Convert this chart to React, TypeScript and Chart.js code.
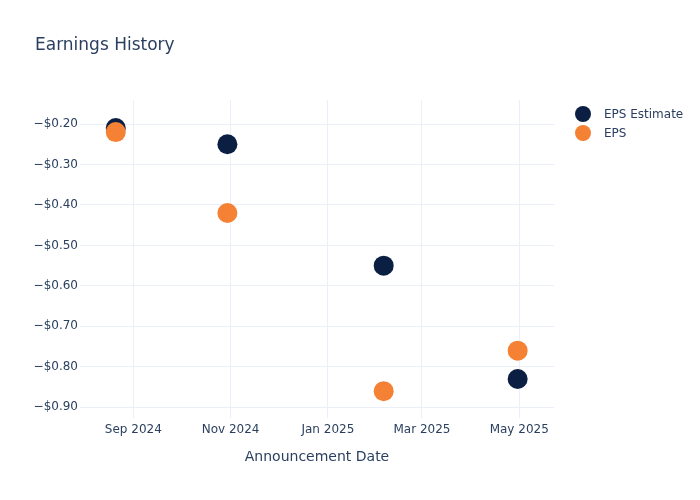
import React, { useEffect, useRef } from "react";
import { Chart, registerables } from "chart.js";

Chart.register(...registerables);

const announcementDates = ["2024-08-21", "2024-10-30", "2025-02-05", "2025-04-30"];
const epsEstimate = [-0.21, -0.25, -0.55, -0.83];
const epsActual = [-0.22, -0.42, -0.86, -0.76];
const xTickDates = ["2024-09-01", "2024-11-01", "2025-01-01", "2025-03-01", "2025-05-01"];
const yTickValues = [-0.2, -0.3, -0.4, -0.5, -0.6, -0.7, -0.8, -0.9];
const seriesNames = ["EPS Estimate", "EPS"];
const chartTitle = "Earnings History";
const xAxisTitle = "Announcement Date";

const MONTHS = ["Jan", "Feb", "Mar", "Apr", "May", "Jun", "Jul", "Aug", "Sep", "Oct", "Nov", "Dec"];
const NAVY = "#0b1f42";
const ORANGE = "#f58134";
const TEXT = "#2a3f5f";
const GRID = "#ebf0f8";
const FONT = "'DejaVu Sans', sans-serif";

const toMs = (s: string) => Date.parse(s + "T00:00:00Z");

const decorPlugin = {
  id: "decor",
  afterDraw(chart: any) {
    const ctx = chart.ctx as CanvasRenderingContext2D;
    ctx.save();
    ctx.fillStyle = TEXT;
    ctx.font = `17px ${FONT}`;
    ctx.textAlign = "left";
    ctx.textBaseline = "middle";
    ctx.fillText(chartTitle, 35, 46);

    const ys = [114, 133];
    chart.data.datasets.forEach((ds: any, i: number) => {
      ctx.beginPath();
      ctx.arc(583, ys[i], 8, 0, Math.PI * 2);
      ctx.fillStyle = ds.backgroundColor;
      ctx.fill();
      ctx.fillStyle = TEXT;
      ctx.font = `12px ${FONT}`;
      ctx.fillText(ds.label, 604, ys[i] + 1);
    });
    ctx.restore();
  },
};

export default function App() {
  const ref = useRef<HTMLCanvasElement>(null);

  useEffect(() => {
    if (!ref.current) return;
    const chart = new Chart(ref.current, {
      type: "scatter",
      data: {
        datasets: [
          {
            label: seriesNames[0],
            data: announcementDates.map((d, i) => ({ x: toMs(d), y: epsEstimate[i] })),
            backgroundColor: NAVY,
            borderWidth: 0,
            pointRadius: 10,
            order: 1,
          },
          {
            label: seriesNames[1],
            data: announcementDates.map((d, i) => ({ x: toMs(d), y: epsActual[i] })),
            backgroundColor: ORANGE,
            borderWidth: 0,
            pointRadius: 10,
            order: 0,
          },
        ],
      },
      options: {
        responsive: false,
        animation: false,
        events: [],
        layout: { padding: { left: 0, top: 100, right: 146, bottom: 0 } },
        plugins: {
          legend: { display: false },
          title: { display: false },
          tooltip: { enabled: false },
        },
        scales: {
          x: {
            type: "linear",
            min: Date.parse("2024-07-29T14:00:00Z"),
            max: Date.parse("2025-05-22T19:00:00Z"),
            afterBuildTicks: (s: any) => {
              s.ticks = xTickDates.map((d) => ({ value: toMs(d) }));
            },
            afterFit: (s: any) => {
              s.height = 82;
            },
            grid: { color: GRID, lineWidth: 1, drawTicks: false },
            border: { display: false },
            ticks: {
              padding: 5,
              color: TEXT,
              font: { family: FONT, size: 12 },
              maxRotation: 0,
              autoSkip: false,
              callback: (v: any) => {
                const d = new Date(Number(v));
                return `${MONTHS[d.getUTCMonth()]} ${d.getUTCFullYear()}`;
              },
            },
            title: {
              display: true,
              text: xAxisTitle,
              color: TEXT,
              font: { family: FONT, size: 14 },
              padding: { top: 0, bottom: 34.6 },
            },
          },
          y: {
            type: "linear",
            min: -0.9264,
            max: -0.1407,
            afterBuildTicks: (s: any) => {
              s.ticks = yTickValues.map((v) => ({ value: v }));
            },
            afterFit: (s: any) => {
              s.width = 80;
            },
            grid: { color: GRID, lineWidth: 1, drawTicks: false },
            border: { display: false },
            ticks: {
              padding: 2,
              color: TEXT,
              font: { family: FONT, size: 12 },
              callback: (v: any) => "\u2212$" + Math.abs(Number(v)).toFixed(2),
            },
          },
        },
      },
      plugins: [decorPlugin],
    });
    return () => chart.destroy();
  }, []);

  return (
    <div style={{ position: "absolute", left: 0, top: 0, width: 700, height: 500, background: "#fff" }}>
      <canvas ref={ref} width={700} height={500} />
    </div>
  );
}
